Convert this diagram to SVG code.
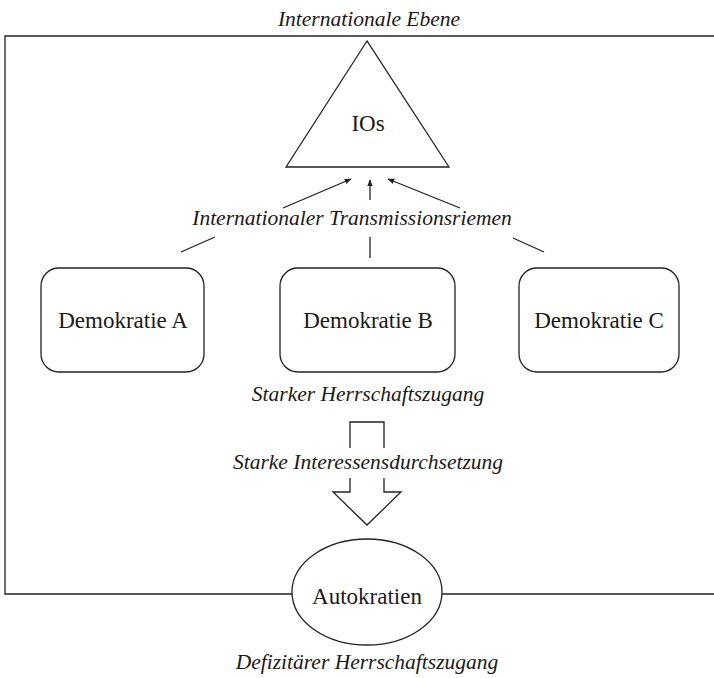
<svg xmlns="http://www.w3.org/2000/svg" width="714" height="678" viewBox="0 0 714 678">
<defs>
<style>
.ln{fill:none;stroke:#222;stroke-width:1.3}
.shape{fill:#fff;stroke:#222;stroke-width:1.3}
.t{font-family:"Liberation Serif","DejaVu Serif",serif;font-size:23px;fill:#1a1a1a;text-anchor:middle}
.i{font-family:"Liberation Serif","DejaVu Serif",serif;font-style:italic;font-size:21.5px;fill:#1a1a1a;text-anchor:middle}
</style>
<marker id="ah" viewBox="0 0 10 10" refX="9" refY="5" markerWidth="7" markerHeight="7" markerUnits="userSpaceOnUse" orient="auto">
<path d="M0,1 L10,5 L0,9 Z" fill="#222"/>
</marker>
</defs>
<rect width="714" height="678" fill="#fff"/>
<g id="frame">
<path class="ln" d="M714,36 H5 V594 H714"/>
<text class="i" x="369" y="26">Internationale Ebene</text>
</g>
<g id="ios">
<polygon class="shape" points="367,41 286,167 449,167"/>
<text class="t" x="368" y="131">IOs</text>
</g>
<g id="demA">
<rect class="shape" x="41" y="268" width="163" height="104" rx="18"/>
<text class="t" x="123" y="328">Demokratie A</text>
</g>
<g id="demB">
<rect class="shape" x="280" y="268" width="175" height="104" rx="18"/>
<text class="t" x="368" y="328">Demokratie B</text>
</g>
<g id="demC">
<rect class="shape" x="519" y="268" width="160" height="104" rx="18"/>
<text class="t" x="599" y="328">Demokratie C</text>
</g>
<g id="autokratien">
<ellipse class="shape" cx="367" cy="592" rx="75" ry="53"/>
<text class="t" x="367" y="604">Autokratien</text>
</g>
<g id="connectors">
<line class="ln" x1="181" y1="252" x2="215" y2="237"/>
<line class="ln" x1="370" y1="258" x2="370" y2="237"/>
<line class="ln" x1="544" y1="252" x2="513" y2="238"/>
<line class="ln" x1="283" y1="208" x2="351" y2="179" marker-end="url(#ah)"/>
<line class="ln" x1="370" y1="200" x2="370" y2="180" marker-end="url(#ah)"/>
<line class="ln" x1="460" y1="208" x2="388" y2="179" marker-end="url(#ah)"/>
<text class="i" x="352" y="225">Internationaler Transmissionsriemen</text>
<path class="ln" d="M350,448 V422 H384 V448"/>
<path class="ln" d="M350,478 V492 H333 L367,525 L401,492 H384 V478"/>
<text class="i" x="368" y="401">Starker Herrschaftszugang</text>
<text class="i" x="368" y="469">Starke Interessensdurchsetzung</text>
<text class="i" x="367" y="669">Defizitärer Herrschaftszugang</text>
</g>
</svg>
